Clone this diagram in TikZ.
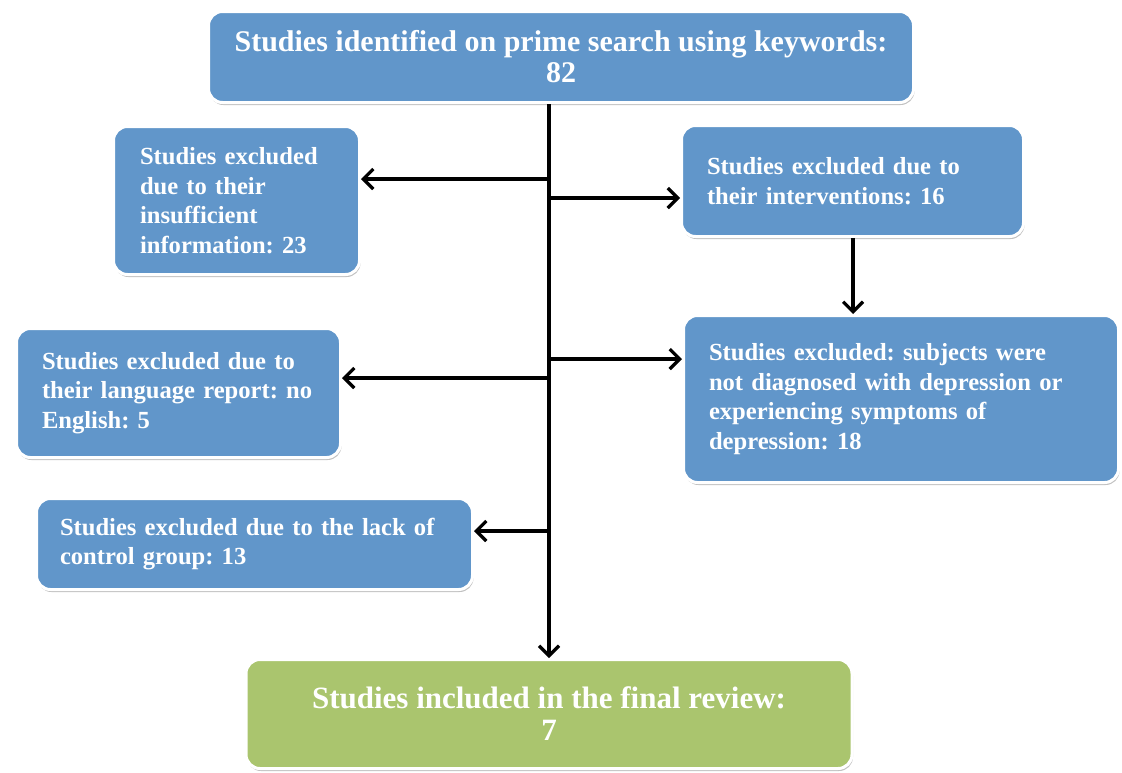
\documentclass[tikz,border=0pt]{standalone}
\usepackage{fontspec}
\setmainfont{Liberation Serif}
\frenchspacing
\usetikzlibrary{arrows.meta,shadows}
\definecolor{boxblue}{RGB}{97,150,202}
\definecolor{boxgreen}{RGB}{170,197,110}
\begin{document}
\begin{tikzpicture}[x=1pt,y=-1pt,
  box/.style={rectangle, rounded corners=14pt, draw=white, line width=3pt,
    fill=boxblue, text=white, font=\bfseries\fontsize{24.6}{29.5}\selectfont,
    drop shadow={shadow xshift=1pt, shadow yshift=-2.5pt, opacity=0.35, fill=black!70}},
  lbox/.style={box, align=left, inner ysep=0pt},
  cbox/.style={box, align=center, inner sep=0pt},
  arr/.style={line width=3.2pt, line join=miter, -{Straight Barb[length=10pt,width=20pt]}}]
\useasboundingbox (0,0) rectangle (1122,772);
\node[cbox, minimum width=705, minimum height=91, font=\bfseries\fontsize{30}{31}\selectfont] (top) at (561,57)
  {Studies identified on prime search using keywords:\\82};
\node[lbox, minimum width=246, minimum height=148, inner xsep=26.5pt, text width=193pt] (insuf) at (236.5,200.5)
  {Studies excluded\\due to their\\insufficient\\information: 23};
\node[lbox, minimum width=342, minimum height=111, inner xsep=25.5pt, text width=291pt] (interv) at (852.5,181)
  {Studies excluded due to\\their interventions: 16};
\node[lbox, minimum width=435, minimum height=167, inner xsep=25.5pt, text width=384pt] (subj) at (901,399)
  {Studies excluded: subjects were\\not diagnosed with depression or\\experiencing symptoms of\\depression: 18};
\node[lbox, minimum width=324, minimum height=129, inner xsep=25.5pt, text width=273pt] (lang) at (178.5,393)
  {Studies excluded due to\\their language report: no\\English: 5};
\node[lbox, minimum width=436, minimum height=91, inner xsep=23.5pt, text width=389pt] (ctrl) at (254.5,544)
  {Studies excluded due to the lack of\\control group: 13};
\node[cbox, fill=boxgreen, minimum width=606, minimum height=109, font=\bfseries\fontsize{31}{32}\selectfont] (final) at (549,714)
  {Studies included in the final review:\\7};
\coordinate (t1) at (final.north |- 0,179);
\coordinate (t2) at (final.north |- 0,198);
\coordinate (t3) at (final.north |- 0,359);
\coordinate (t4) at (final.north |- 0,378);
\coordinate (t5) at (final.north |- 0,531);
\draw[arr] (final.north |- top.south) -- (final.north);
\draw[arr] (t1) -- (insuf.east |- t1);
\draw[arr] (t2) -- (interv.west |- t2);
\draw[arr] (t3) -- (subj.west |- t3);
\draw[arr] (t4) -- (lang.east |- t4);
\draw[arr] (t5) -- (ctrl.east |- t5);
\draw[arr] (interv.south -| 853,0) -- (subj.north -| 853,0);
\end{tikzpicture}
\end{document}
